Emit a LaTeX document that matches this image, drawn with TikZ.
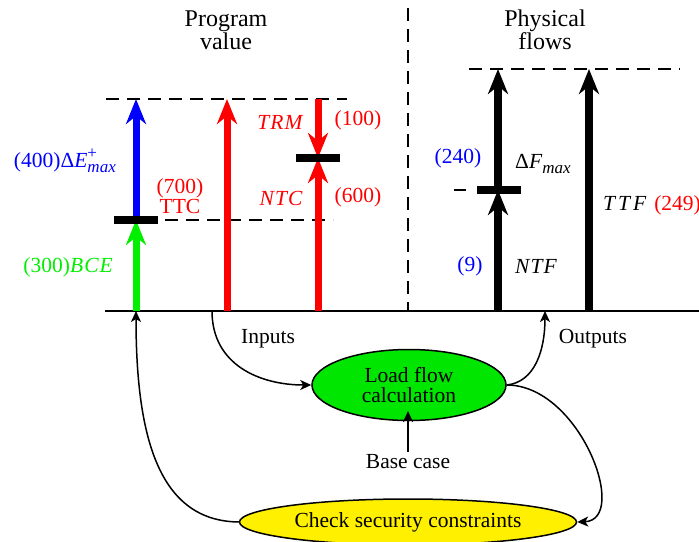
\documentclass[tikz,border=0pt]{standalone}
\usepackage{fontspec}
\setmainfont{Liberation Serif}
\newfontfamily\varfont[LetterSpace=5]{Liberation Serif}
\usetikzlibrary{arrows.meta,shapes.geometric}
\definecolor{pvred}{RGB}{255,0,0}
\definecolor{pvgreen}{RGB}{0,240,0}
\definecolor{pvblue}{RGB}{0,0,255}
\definecolor{lfgreen}{RGB}{0,230,0}
\definecolor{csyellow}{RGB}{255,240,0}
\newcommand{\vname}[1]{{\varfont\itshape #1}}
% small raised / lowered indices set in the text font
\newcommand{\idxsize}{\fontsize{17}{17}\selectfont}
\newcommand{\supsub}[2]{\makebox[0pt][l]{\raisebox{9pt}{\idxsize #1}}\raisebox{-5pt}{\idxsize\itshape #2}}
\newcommand{\subonly}[1]{\raisebox{-5pt}{\idxsize\itshape #1}}
\tikzset{
  every node/.style={font=\fontsize{21.5}{19.5}\selectfont, inner sep=0pt},
  heading/.style={font=\fontsize{24}{23}\selectfont, align=center},
  quantity/.style={line width=7pt, -{Stealth[length=25pt,width=20pt,inset=8pt]}},
  flowqty/.style={quantity, line width=8pt},
  levelbar/.style={line width=8pt},
  guide/.style={line width=2pt, dash pattern=on 13pt off 8pt},
  link/.style={line width=1.5pt, -{Stealth[length=11pt,width=10pt,inset=3pt]}},
  process/.style={ellipse, draw, line width=1.5pt},
}
\begin{document}
\begin{tikzpicture}[x=1pt,y=-1pt]
\useasboundingbox (0,0) rectangle (699,541);

% titles and the divider between the two halves
\node[heading] (pvtitle) at (226,30) {Program\\value};
\node[heading] (pftitle) at (545,30) {Physical\\flows};
\coordinate (divtop) at (408,8);
\coordinate (divbot) at (408,311);
\draw[guide] (divtop) -- (divbot);

% axis
\coordinate (axl) at (105,311);
\coordinate (axr) at (699,311);
\draw[line width=2.5pt] (axl) -- (axr);

% reference levels
\coordinate (topl) at (106,99);  \coordinate (topr) at (347,99);
\coordinate (midl) at (165,220); \coordinate (midr) at (333,220);
\coordinate (ftopl) at (469,69); \coordinate (ftopr) at (680,69);
\draw[guide] (topl) -- (topr);
\draw[guide] (midl) -- (midr);
\draw[guide] (ftopl) -- (ftopr);

% program value quantities
\coordinate (bce0) at (136,311); \coordinate (bce1) at (136,220); \coordinate (bce2) at (136,99);
\draw[quantity, pvgreen] (bce0) -- (bce1);
\draw[quantity, pvblue] (bce1) -- (bce2);
\coordinate (barAl) at (114,220); \coordinate (barAr) at (158,220);
\draw[levelbar] (barAl) -- (barAr);

\coordinate (ttc0) at (227,311); \coordinate (ttc1) at (227,99);
\draw[quantity, pvred] (ttc0) -- (ttc1);

\coordinate (ntc0) at (318,311); \coordinate (ntc1) at (318,158); \coordinate (trm0) at (318,99);
\draw[quantity, pvred] (ntc0) -- (ntc1);
\draw[quantity, pvred] (trm0) -- (ntc1);
\coordinate (barBl) at (296,158); \coordinate (barBr) at (340,158);
\draw[levelbar] (barBl) -- (barBr);

% physical flow quantities
\coordinate (ntf0) at (498,311); \coordinate (ntf1) at (498,190); \coordinate (ntf2) at (498,69);
\draw[flowqty] (ntf0) -- (ntf1);
\draw[flowqty] (ntf1) -- (ntf2);
\coordinate (barCl) at (477,190); \coordinate (barCr) at (521,190);
\draw[levelbar] (barCl) -- (barCr);
\coordinate (tickl) at (454,190); \coordinate (tickr) at (466,190);
\draw[line width=2.5pt] (tickl) -- (tickr);
\coordinate (ttf0) at (589,311); \coordinate (ttf1) at (589,69);
\draw[flowqty] (ttf0) -- (ttf1);

% labels, program value side
\node[anchor=base east, pvblue] (lbdE) at (116,167) {(400)Δ\textit{E}\supsub{+}{max}};
\node[align=center, pvred] (lbttc) at (180,196) {(700)\\TTC};
\node[anchor=base east, pvgreen] (lbbce) at (113,272) {(300)\vname{BCE}};
\node[pvred] (lbtrm) at (280,122) {\vname{TRM}};
\node[pvred] (lb100) at (358,120) {(100)};
\node[pvred] (lbntc) at (281,198) {\vname{NTC}};
\node[pvred] (lb600) at (358,197) {(600)};

% labels, physical flow side
\node[pvblue] (lb240) at (458,158) {(240)};
\node[anchor=base west] (lbdF) at (515,168) {Δ\textit{F}\subonly{max}};
\node[pvblue] (lb9) at (470,266) {(9)};
\node (lbntf) at (536,266) {\vname{NTF}};
\node[anchor=west] (lbttf) at (603,205) {\vname{T\kern3pt T\kern3pt F}\hspace{8pt}\textcolor{pvred}{(249)}};

% load flow loop
\node[process, fill=lfgreen, minimum width=194pt, minimum height=71pt, align=center] (lf) at (409,385) {Load flow\\calculation};
\node[process, fill=csyellow, minimum width=337pt, minimum height=46pt] (cs) at (408,522) {Check security constraints};
\node (base) at (408,462) {Base case};
\node (inl) at (268,339) {Inputs};
\node (outl) at (593,339) {Outputs};

\coordinate (inpt) at (212,311);
\coordinate (outpt) at (545,311);
\coordinate (bcept) at (136,311);
\coordinate (basetip) at (408,411);
\coordinate (basefoot) at (408,452);

\draw[link] (inpt) .. controls (212,365) and (260,385) .. (lf.west);
\draw[link] (lf.east) .. controls (535,382) and (545,350) .. (outpt);
\draw[link] (lf.east) .. controls (580,385) and (630,520) .. (cs.east);
\draw[link] (cs.west) .. controls (160,521) and (136,440) .. (bcept);
\draw[link] (basefoot) -- (basetip);
\end{tikzpicture}
\end{document}
